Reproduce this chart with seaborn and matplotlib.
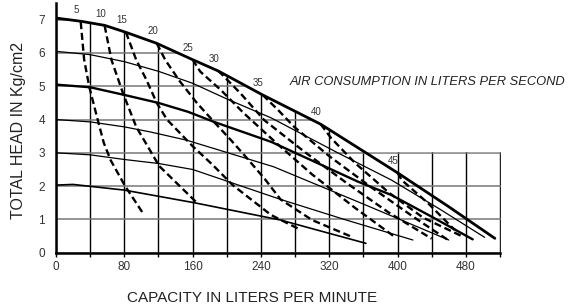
"""
Air-operated pump performance curve: total head vs capacity, with air consumption lines.
"""
import numpy as np
import pandas as pd
import matplotlib
matplotlib.use('Agg')
import matplotlib.pyplot as plt
from matplotlib.patches import Polygon
import seaborn as sns

# Head curves (constant air pressure), capacity in L/min, head in Kg/cm2
HEAD_7_X = [0, 30, 57, 82, 118, 160, 190, 242, 310, 400, 460, 514]
HEAD_7_Y = [7.05, 6.95, 6.83, 6.62, 6.29, 5.8, 5.46, 4.74, 3.86, 2.4, 1.38, 0.43]
HEAD_6_X = [0, 40, 80, 120, 160, 200, 252, 330, 393, 450, 502]
HEAD_6_Y = [6.05, 5.95, 5.74, 5.45, 5.09, 4.62, 4.05, 3.0, 2.18, 1.3, 0.46]
HEAD_5_X = [0, 40, 80, 120, 155, 185, 252, 354, 393, 440, 488]
HEAD_5_Y = [5.05, 4.97, 4.74, 4.5, 4.23, 3.93, 3.33, 2.13, 1.73, 1.08, 0.4]
HEAD_4_X = [0, 40, 80, 110, 153, 255, 360, 460]
HEAD_4_Y = [4.0, 3.93, 3.78, 3.63, 3.38, 2.58, 1.46, 0.38]
HEAD_3_X = [0, 40, 80, 120, 160, 263, 340, 418]
HEAD_3_Y = [3.0, 2.94, 2.8, 2.68, 2.5, 1.6, 0.98, 0.38]
HEAD_2_X = [0, 20, 80, 162, 263, 363]
HEAD_2_Y = [2.03, 2.05, 1.88, 1.5, 0.98, 0.28]

# Air consumption lines (liters per second)
AIR_LABELS = ['5', '10', '15', '20', '25', '30', '35', '40', '45']
AIR_X = [
    [29, 33, 39, 49, 56, 64, 81, 102],
    [57, 65, 78.5, 94, 110, 121, 145, 165],
    [82, 94, 106, 118, 130, 145, 160, 183, 207, 252, 283],
    [118, 128, 145, 165, 185, 205, 224, 245, 263, 300, 346],
    [160, 169, 193, 220, 260, 300, 350, 398],
    [190, 195, 216, 244, 290, 340, 390, 440],
    [242, 260, 279, 320, 370, 420, 458],
    [310, 322, 350, 390, 430, 475],
    [400, 405, 436, 467],
]
AIR_Y = [
    [6.93, 5.8, 4.98, 3.98, 3.3, 2.78, 2.0, 1.18],
    [6.82, 5.79, 4.79, 3.78, 3.08, 2.6, 2.0, 1.5],
    [6.62, 5.79, 5.19, 4.5, 4.0, 3.6, 3.2, 2.65, 2.03, 1.13, 0.73],
    [6.29, 5.79, 5.15, 4.5, 3.93, 3.38, 2.83, 2.2, 1.6, 0.98, 0.48],
    [5.8, 5.44, 4.89, 4.19, 3.25, 2.35, 1.35, 0.45],
    [5.46, 5.34, 4.79, 3.98, 3.05, 2.1, 1.2, 0.42],
    [4.74, 4.29, 3.78, 2.9, 1.95, 1.05, 0.4],
    [3.86, 3.45, 2.7, 1.8, 1.05, 0.5],
    [2.4, 2.18, 1.48, 0.68],
]

X_TICKS = list(range(0, 521, 40))
X_LABELS = ['0', '', '80', '', '160', '', '240', '', '320', '', '400', '', '480', '']
Y_TICKS = [0, 1, 2, 3, 4, 5, 6, 7]


def main():
    sns.set_style('white')
    plt.rcParams['font.family'] = ['Liberation Sans', 'DejaVu Sans']

    fig, ax = plt.subplots(figsize=(5.77, 3.07), dpi=100)
    fig.subplots_adjust(left=0.097, right=0.871, bottom=0.177, top=0.99)

    # head curves
    heads = [
        (HEAD_7_X, HEAD_7_Y, 2.0),
        (HEAD_6_X, HEAD_6_Y, 0.9),
        (HEAD_5_X, HEAD_5_Y, 1.7),
        (HEAD_4_X, HEAD_4_Y, 0.9),
        (HEAD_3_X, HEAD_3_Y, 0.9),
        (HEAD_2_X, HEAD_2_Y, 1.2),
    ]
    for hx, hy, lw in heads:
        sns.lineplot(x=hx, y=hy, ax=ax, color='black', lw=lw, sort=False,
                     estimator=None, zorder=4)

    # air consumption lines
    for lab, axx, ayy in zip(AIR_LABELS, AIR_X, AIR_Y):
        sns.lineplot(x=axx, y=ayy, ax=ax, color='black', lw=1.7, sort=False,
                     estimator=None, zorder=5, linestyle=(0, (3, 1.6)))
        ax.annotate(lab, (axx[0], ayy[0]), xytext=(-3, 5), textcoords='offset points',
                    fontsize=7, color='#333333', ha='center', va='bottom')

    ax.set_xlim(0, 523)
    ax.set_ylim(0, 7.5)
    ax.set_xticks(X_TICKS)
    ax.set_xticklabels(X_LABELS)
    ax.set_yticks(Y_TICKS)
    ax.tick_params(axis='x', length=3, width=1, color='black', pad=3,
                   labelsize=8.5, labelcolor='#333333', direction='out', bottom=True)
    ax.tick_params(axis='y', length=0, pad=8, labelsize=8.5, labelcolor='#333333')

    for s in ['top', 'right']:
        ax.spines[s].set_visible(False)
    ax.spines['left'].set_linewidth(1.8)
    ax.spines['bottom'].set_linewidth(1.8)
    ax.spines['left'].set_color('black')
    ax.spines['bottom'].set_color('black')
    ax.spines['bottom'].set_bounds(0, 520)

    # grid clipped under the top curve plus the lower box
    ax.grid(True, axis='x', color='black', lw=1.0)
    ax.grid(True, axis='y', color='#777777', lw=1.1)
    ax.set_axisbelow(True)
    env_x = np.array(HEAD_7_X, dtype=float)
    env_y = np.array(HEAD_7_Y, dtype=float)
    x3 = np.interp(3.0, env_y[::-1], env_x[::-1])
    keep = env_y > 3.0
    verts = [(0, 0)] + list(zip(env_x[keep], env_y[keep])) + [(x3, 3.02), (521, 3.02), (521, 0)]
    clip = Polygon(verts, closed=True, transform=ax.transData, facecolor='none', edgecolor='none')
    ax.add_patch(clip)
    for gl in ax.get_xgridlines() + ax.get_ygridlines():
        gl.set_clip_path(clip)

    ax.text(274, 5.13, 'AIR CONSUMPTION IN LITERS PER SECOND', fontsize=9.3,
            style='italic', color='#222222', va='center', ha='left')
    ax.set_xlabel('CAPACITY IN LITERS PER MINUTE', fontsize=11, color='#222222')
    ax.xaxis.set_label_coords(0.438, -0.155)
    ax.set_ylabel('TOTAL HEAD IN Kg/cm2', fontsize=11.5, color='#222222')
    ax.yaxis.set_label_coords(-0.067, 0.49)

    fig.savefig('out.png', dpi=100)
    plt.close(fig)


if __name__ == '__main__':
    main()
